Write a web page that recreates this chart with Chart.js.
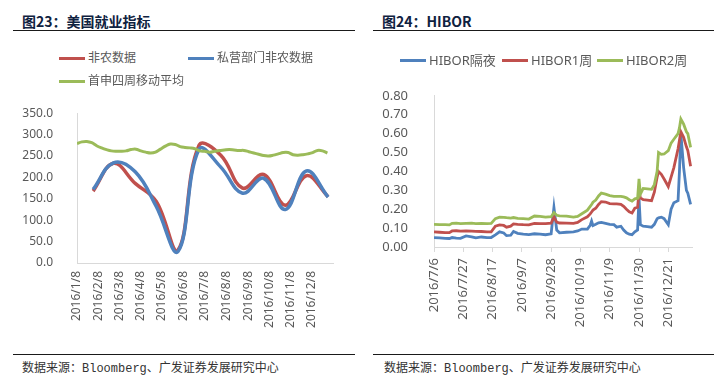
<!DOCTYPE html>
<html>
<head>
<meta charset="utf-8">
<script src="https://cdn.jsdelivr.net/npm/chart.js@4/dist/chart.umd.min.js"></script>
<style>
  body { margin: 0; background: #fff; width: 724px; height: 378px; position: relative; overflow: hidden;
         font-family: "Noto Sans", "Noto Sans CJK SC", sans-serif; }
  .title { position: absolute; top: 11px; line-height: 20px; font: bold 14px "Noto Sans CJK SC", sans-serif; color: #0f2240; }
  .rule { position: absolute; height: 0; border-top: 1.5px solid #1a1a1a; }
  .src { position: absolute; top: 358px; line-height: 16px; font: 12px "Liberation Mono", "Noto Sans CJK SC", monospace; color: #333; }
  .lg { position: absolute; color: #595959; white-space: nowrap; line-height: 16px; }
  .lg i { position: absolute; height: 3px; }
  canvas { position: absolute; }
</style>
</head>
<body>
<div class="title" style="left:22px">图23：美国就业指标</div>
<div class="rule" style="left:13px;width:342px;top:30px"></div>
<div class="title" style="left:382px">图24：HIBOR</div>
<div class="rule" style="left:373px;width:341px;top:30px"></div>

<canvas id="usChart" width="362" height="250" style="left:0;top:90px"></canvas>
<canvas id="hiborChart" width="362" height="280" style="left:362px;top:70px"></canvas>

<div class="rule" style="left:13px;width:342px;top:354px"></div>
<div class="src" style="left:22px">数据来源：Bloomberg、广发证券发展研究中心</div>
<div class="rule" style="left:373px;width:341px;top:354px"></div>
<div class="src" style="left:384px">数据来源：Bloomberg、广发证券发展研究中心</div>

<script>
// ---------- 美国就业指标 ----------
const nfpDates = ['2016/1/31','2016/2/29','2016/3/31','2016/4/30','2016/5/31','2016/6/30',
                  '2016/7/31','2016/8/31','2016/9/30','2016/10/31','2016/11/30','2016/12/31'];
const nfpTotal   = [168, 233, 186, 144, 30, 275, 252, 175, 207, 135, 204, 155];
const nfpPrivate = [172, 234, 213, 132, 27, 266, 224, 163, 198, 125, 215, 154];

const claimDates = ['2016/1/8','2016/1/15','2016/1/22','2016/1/29','2016/2/5','2016/2/12','2016/2/19','2016/2/26',
  '2016/3/4','2016/3/11','2016/3/18','2016/3/25','2016/4/1','2016/4/8','2016/4/15','2016/4/22','2016/4/29',
  '2016/5/6','2016/5/13','2016/5/20','2016/5/27','2016/6/3','2016/6/10','2016/6/17','2016/6/24',
  '2016/7/1','2016/7/8','2016/7/15','2016/7/22','2016/7/29','2016/8/5','2016/8/12','2016/8/19','2016/8/26',
  '2016/9/2','2016/9/9','2016/9/16','2016/9/23','2016/9/30','2016/10/7','2016/10/14','2016/10/21','2016/10/28',
  '2016/11/4','2016/11/11','2016/11/18','2016/11/25','2016/12/2','2016/12/9','2016/12/16','2016/12/23','2016/12/30'];
const claims4wk = [279,283,284,281,274,269,265,262,261,261,262,265,266,262,259,257,259,266,273,278,
  277,272,270,269,267,262,261,259,261,263,264,265,264,263,263,260,257,254,251,250,
  252,255,258,258,253,252,253,255,258,263,262,257];

const usTicks = ['2016/1/8','2016/2/8','2016/3/8','2016/4/8','2016/5/8','2016/6/8',
                 '2016/7/8','2016/8/8','2016/9/8','2016/10/8','2016/11/8','2016/12/8'];

// ---------- HIBOR ----------
const hiborDates = ['2016/7/6','2016/7/10','2016/7/14','2016/7/17','2016/7/19','2016/7/22','2016/7/25','2016/7/29',
  '2016/8/2','2016/8/5','2016/8/9','2016/8/13','2016/8/16','2016/8/19','2016/8/22','2016/8/25','2016/8/27','2016/8/30',
  '2016/9/1','2016/9/4','2016/9/8','2016/9/12','2016/9/16','2016/9/20','2016/9/24','2016/9/28','2016/9/30',
  '2016/10/2','2016/10/4','2016/10/9','2016/10/14','2016/10/17','2016/10/20','2016/10/24','2016/10/26','2016/10/27',
  '2016/10/28','2016/10/30','2016/11/1','2016/11/3','2016/11/6','2016/11/9','2016/11/12','2016/11/14','2016/11/17',
  '2016/11/19','2016/11/21','2016/11/23','2016/11/25','2016/11/27','2016/11/29','2016/11/30','2016/12/1','2016/12/3',
  '2016/12/6','2016/12/9','2016/12/11','2016/12/13','2016/12/14','2016/12/16','2016/12/18','2016/12/21','2016/12/23',
  '2016/12/25','2016/12/28','2016/12/29','2016/12/30','2017/1/1','2017/1/3','2017/1/4','2017/1/6'];
const hiborON = [.050,.048,.046,.045,.050,.047,.046,.059,
  .054,.048,.053,.050,.050,.064,.080,.074,.060,.062,
  .082,.072,.068,.066,.070,.068,.065,.070,.209,
  .090,.075,.078,.080,.085,.095,.095,.115,.137,
  .113,.120,.128,.130,.125,.120,.118,.105,.110,
  .090,.075,.068,.065,.080,.090,.260,.118,.110,
  .108,.105,.120,.150,.154,.158,.150,.118,.200,
  .234,.245,.400,.600,.420,.300,.285,.226];
const hibor1W = [.080,.078,.076,.076,.085,.086,.084,.085,
  .084,.083,.082,.080,.080,.110,.117,.114,.105,.110,
  .122,.120,.118,.117,.125,.124,.124,.126,.159,
  .132,.127,.126,.125,.130,.145,.160,.175,.185,
  .195,.205,.225,.240,.238,.230,.228,.228,.226,
  .215,.200,.186,.180,.205,.210,.293,.260,.250,
  .248,.245,.290,.370,.400,.385,.360,.320,.370,
  .420,.520,.565,.610,.580,.530,.510,.427];
const hibor2W = [.120,.118,.118,.117,.125,.126,.124,.125,
  .126,.124,.125,.124,.125,.150,.158,.157,.155,.153,
  .156,.152,.150,.148,.164,.162,.158,.160,.182,
  .168,.165,.163,.158,.162,.176,.195,.215,.225,
  .237,.248,.270,.285,.280,.272,.268,.268,.268,
  .265,.260,.250,.243,.255,.258,.360,.280,.310,
  .308,.305,.330,.400,.500,.490,.492,.510,.550,
  .570,.600,.630,.677,.650,.610,.600,.527];

const hiborTicks = ['2016/7/6','2016/7/27','2016/8/17','2016/9/7','2016/9/28',
                    '2016/10/19','2016/11/9','2016/11/30','2016/12/21'];

const RED = '#C0504D', BLUE = '#4F81BD', GREEN = '#9BBB59';
const FONT = '"Noto Sans", "Noto Sans CJK SC", sans-serif';

function dayOf(s, base) {
  const [y, m, d] = s.split('/').map(Number);
  return (Date.UTC(y, m - 1, d) - base) / 864e5;
}
function points(dates, vals, base) {
  return dates.map((s, i) => ({ x: dayOf(s, base), y: vals[i] }));
}

function makeChart(id, o) {
  return new Chart(document.getElementById(id), {
    type: 'line',
    data: { datasets: o.datasets },
    options: {
      responsive: false, animation: false, devicePixelRatio: 1,
      layout: { padding: o.padding },
      elements: { point: { radius: 0 } },
      plugins: { legend: { display: false }, tooltip: { enabled: false } },
      scales: {
        x: {
          type: 'linear', min: 0, max: o.xmax,
          afterBuildTicks: ax => { ax.ticks = o.ticks.map(s => ({ value: dayOf(s, o.base) })); },
          afterFit: ax => { ax.height = o.xh; },
          grid: { display: o.xTickMarks, drawOnChartArea: false, drawTicks: o.xTickMarks, tickLength: 5, color: '#D9D9D9' },
          border: { display: true, color: '#D9D9D9' },
          ticks: { autoSkip: false, minRotation: 90, maxRotation: 90, padding: o.xpad, color: '#595959',
                   font: { family: FONT, size: o.fs }, callback: (v, i) => o.ticks[i] }
        },
        y: {
          min: 0, max: o.ymax,
          afterFit: ax => { ax.width = o.yw; },
          grid: { display: false },
          border: { display: true, color: '#D9D9D9' },
          ticks: { stepSize: o.ystep, padding: o.ypad, color: '#595959', font: { family: FONT, size: o.fs },
                   callback: v => Number(v).toFixed(o.digits) }
        }
      }
    }
  });
}

const usBase = Date.UTC(2016, 0, 8);
const usSets = [
  { label: '非农数据', data: points(nfpDates, nfpTotal, usBase), borderColor: RED, borderWidth: 3.5, tension: 0.4, order: 3 },
  { label: '私营部门非农数据', data: points(nfpDates, nfpPrivate, usBase), borderColor: BLUE, borderWidth: 3.5, tension: 0.4, order: 2 },
  { label: '首申四周移动平均', data: points(claimDates, claims4wk, usBase), borderColor: GREEN, borderWidth: 3, tension: 0.4, order: 1 }
];
makeChart('usChart', {
  datasets: usSets, base: usBase, ticks: usTicks, xmax: 365,
  ymax: 350, ystep: 50, digits: 1, fs: 12,
  padding: { left: 0, right: 29, top: 16, bottom: 0 }, yw: 77, xh: 77, xpad: 8, ypad: 16, xTickMarks: false
});

const hkBase = Date.UTC(2016, 6, 6);
const hkSets = [
  { label: 'HIBOR隔夜', data: points(hiborDates, hiborON, hkBase), borderColor: BLUE, borderWidth: 2.8, tension: 0, order: 3 },
  { label: 'HIBOR1周', data: points(hiborDates, hibor1W, hkBase), borderColor: RED, borderWidth: 2.8, tension: 0, order: 2 },
  { label: 'HIBOR2周', data: points(hiborDates, hibor2W, hkBase), borderColor: GREEN, borderWidth: 2.8, tension: 0, order: 1 }
];
makeChart('hiborChart', {
  datasets: hkSets, base: hkBase, ticks: hiborTicks, xmax: 185,
  ymax: 0.8, ystep: 0.1, digits: 2, fs: 13,
  padding: { left: 0, right: 32, top: 17, bottom: 0 }, yw: 72, xh: 103, xpad: 6, ypad: 18, xTickMarks: true
});

// legends (html, built from the dataset labels)
function legend(sets, spots, size) {
  sets.forEach((ds, i) => {
    const [x, y] = spots[i];
    const el = document.createElement('div');
    el.className = 'lg';
    el.style.left = x + 'px';
    el.style.top = (y - 8) + 'px';
    el.style.fontSize = size + 'px';
    el.style.paddingLeft = '29px';
    el.innerHTML = '<i style="left:0;top:6.5px;width:26px;background:' + ds.borderColor + '"></i>' + ds.label;
    document.body.appendChild(el);
  });
}
legend(usSets, [[59, 58], [188, 58], [59, 81]], 12);
legend(hkSets, [[400, 60], [502, 60], [597, 60]], 13);
</script>
</body>
</html>
